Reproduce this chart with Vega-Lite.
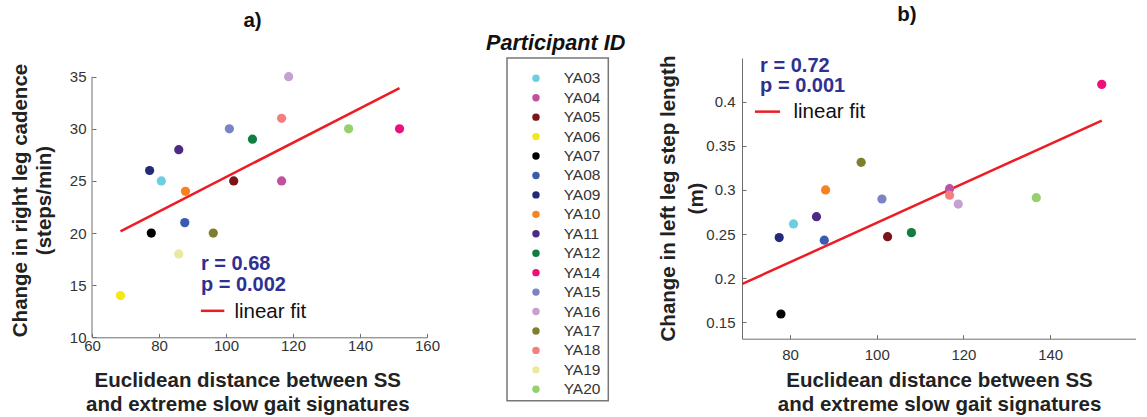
{
  "$schema": "https://vega.github.io/schema/vega-lite/v6.json",
  "background": "white",
  "padding": {"left": 10, "top": 4, "right": 0, "bottom": 0},
  "config": {
    "font": "Liberation Sans",
    "view": {"stroke": null},
    "axis": {
      "grid": false,
      "domainColor": "#6e6e6e",
      "tickColor": "#6e6e6e",
      "tickSize": -4,
      "labelColor": "#333333",
      "labelFontSize": 15,
      "labelFlush": false,
      "labelOverlap": false,
      "titleFontSize": 20.5,
      "titleFontWeight": "bold",
      "titleColor": "#222222"
    },
    "title": {"fontSize": 20.5, "fontWeight": "bold", "color": "#111111", "baseline": "alphabetic", "frame": "group"}
  },
  "datasets": {
    "cadence": [
      {"id": "YA03", "dist": 80.7, "value": 25},
      {"id": "YA04", "dist": 116.6, "value": 25},
      {"id": "YA05", "dist": 102.3, "value": 25},
      {"id": "YA06", "dist": 68.5, "value": 14},
      {"id": "YA07", "dist": 77.7, "value": 20},
      {"id": "YA08", "dist": 87.7, "value": 21},
      {"id": "YA09", "dist": 77.2, "value": 26},
      {"id": "YA10", "dist": 87.9, "value": 24},
      {"id": "YA11", "dist": 85.9, "value": 28},
      {"id": "YA12", "dist": 107.9, "value": 29},
      {"id": "YA14", "dist": 151.8, "value": 30},
      {"id": "YA15", "dist": 101.0, "value": 30},
      {"id": "YA16", "dist": 118.7, "value": 35},
      {"id": "YA17", "dist": 96.2, "value": 20},
      {"id": "YA18", "dist": 116.6, "value": 31},
      {"id": "YA19", "dist": 85.9, "value": 18},
      {"id": "YA20", "dist": 136.6, "value": 30}
    ],
    "steplength": [
      {"id": "YA03", "dist": 80.8, "value": 0.2614},
      {"id": "YA04", "dist": 116.8, "value": 0.3014},
      {"id": "YA05", "dist": 102.5, "value": 0.247},
      {"id": "YA07", "dist": 77.9, "value": 0.1594},
      {"id": "YA08", "dist": 87.9, "value": 0.243},
      {"id": "YA09", "dist": 77.5, "value": 0.246},
      {"id": "YA10", "dist": 88.2, "value": 0.300},
      {"id": "YA11", "dist": 86.1, "value": 0.2697},
      {"id": "YA12", "dist": 108.0, "value": 0.2516},
      {"id": "YA14", "dist": 151.9, "value": 0.4196},
      {"id": "YA15", "dist": 101.2, "value": 0.2897},
      {"id": "YA16", "dist": 118.8, "value": 0.284},
      {"id": "YA17", "dist": 96.4, "value": 0.3313},
      {"id": "YA18", "dist": 116.8, "value": 0.294},
      {"id": "YA20", "dist": 136.8, "value": 0.2912}
    ],
    "fitA": [
      {"dist": 68.5, "value": 20.17},
      {"dist": 151.8, "value": 33.91}
    ],
    "fitB": [
      {"dist": 69.0, "value": 0.1935},
      {"dist": 151.9, "value": 0.3785}
    ]
  },
  "spacing": 32,
  "hconcat": [
    {
      "spacing": 45,
      "hconcat": [
        {
          "width": 335,
          "height": 279.3,
          "title": {"text": "a)", "offset": 26.5, "dx": -7},
          "layer": [
            {
              "data": {"name": "fitA"},
              "mark": {"type": "line", "color": "#ed1c24", "strokeWidth": 2.5},
              "encoding": {
                "x": {
                  "field": "dist", "type": "quantitative",
                  "scale": {"domain": [60, 160], "nice": false, "zero": false},
                  "axis": {
                    "title": ["Euclidean distance between SS", "and extreme slow gait signatures"],
                    "values": [60, 80, 100, 120, 140, 160],
                    "labelPadding": 5,
                    "titleX": 155.3, "titleY": 49.4,
                    "titleBaseline": "alphabetic", "titleLineHeight": 24
                  }
                },
                "y": {
                  "field": "value", "type": "quantitative",
                  "scale": {"domain": [10, 36.79], "nice": false, "zero": false},
                  "axis": {
                    "title": ["Change in right leg cadence", "(steps/min)"],
                    "values": [10, 15, 20, 25, 30, 35],
                    "domain": false,
                    "labelPadding": 10,
                    "titleX": -65.2, "titleY": 142,
                    "titleBaseline": "alphabetic", "titleLineHeight": 24
                  }
                }
              }
            },
            {
              "data": {"name": "cadence"},
              "mark": {"type": "circle", "size": 85, "opacity": 1},
              "encoding": {
                "x": {"field": "dist", "type": "quantitative"},
                "y": {"field": "value", "type": "quantitative"},
                "color": {
                  "field": "id", "type": "nominal", "legend": null,
                  "scale": {
                    "domain": ["YA03","YA04","YA05","YA06","YA07","YA08","YA09","YA10","YA11","YA12","YA14","YA15","YA16","YA17","YA18","YA19","YA20"],
                    "range": ["#6ccfe0","#c050a0","#7b1418","#f2e81c","#000000","#3a5bb0","#232a78","#f7821e","#4e2a84","#0e7f3f","#ee0f7c","#7b83c4","#c6a0d0","#7e7e2e","#f47f7f","#ebe9a0","#95d06c"]
                  }
                }
              }
            },
            {
              "data": {"values": [{"item": "y axis line"}]},
              "mark": {"type": "rule", "color": "#6e6e6e", "strokeWidth": 1},
              "encoding": {"x": {"datum": 60, "type": "quantitative"}, "y": {"datum": 10, "type": "quantitative"}, "y2": {"datum": 35}}
            },
            {
              "data": {"values": [{"label": "r = 0.68\np = 0.002"}]},
              "mark": {"type": "text", "align": "left", "baseline": "alphabetic", "fontSize": 20, "fontWeight": "bold", "color": "#2e3192", "lineBreak": "\n", "lineHeight": 20.5},
              "encoding": {"x": {"datum": 92.5, "type": "quantitative"}, "y": {"datum": 16.45, "type": "quantitative"}, "text": {"field": "label", "type": "nominal"}}
            },
            {
              "data": {"values": [{"item": "legend line"}]},
              "mark": {"type": "rule", "color": "#ed1c24", "strokeWidth": 2.5},
              "encoding": {"x": {"datum": 92.5, "type": "quantitative"}, "x2": {"datum": 99.5}, "y": {"datum": 12.54, "type": "quantitative"}}
            },
            {
              "data": {"values": [{"label": "linear fit"}]},
              "mark": {"type": "text", "align": "left", "baseline": "alphabetic", "fontSize": 20.5, "color": "#111111"},
              "encoding": {"x": {"datum": 102.5, "type": "quantitative"}, "y": {"datum": 11.87, "type": "quantitative"}, "text": {"field": "label", "type": "nominal"}}
            }
          ]
        },
        {
          "width": 101.3,
          "height": 342.7,
          "view": {"stroke": "#777777", "strokeWidth": 1.5},
          "title": {"text": "Participant ID", "fontStyle": "italic", "fontSize": 21.6, "offset": 3, "dx": -2},
          "data": {"name": "cadence"},
          "encoding": {
            "y": {"field": "id", "type": "nominal", "scale": {"type": "point", "padding": 0.815, "align": 0.64}, "axis": null}
          },
          "layer": [
            {
              "mark": {"type": "circle", "size": 55, "opacity": 1},
              "encoding": {
                "x": {"datum": 0.286, "type": "quantitative", "scale": {"domain": [0, 1], "nice": false, "zero": false}, "axis": null},
                "color": {
                  "field": "id", "type": "nominal", "legend": null,
                  "scale": {
                    "domain": ["YA03","YA04","YA05","YA06","YA07","YA08","YA09","YA10","YA11","YA12","YA14","YA15","YA16","YA17","YA18","YA19","YA20"],
                    "range": ["#6ccfe0","#c050a0","#7b1418","#f2e81c","#000000","#3a5bb0","#232a78","#f7821e","#4e2a84","#0e7f3f","#ee0f7c","#7b83c4","#c6a0d0","#7e7e2e","#f47f7f","#ebe9a0","#95d06c"]
                  }
                }
              }
            },
            {
              "mark": {"type": "text", "align": "left", "baseline": "middle", "fontSize": 15.5, "color": "#333333"},
              "encoding": {
                "x": {"datum": 0.559, "type": "quantitative"},
                "text": {"field": "id", "type": "nominal"}
              }
            }
          ]
        }
      ]
    },
    {
      "width": 394,
      "height": 280.7,
      "title": {"text": "b)", "offset": 29.7, "dx": -32},
      "layer": [
        {
          "data": {"name": "fitB"},
          "mark": {"type": "line", "color": "#ed1c24", "strokeWidth": 2.5},
          "encoding": {
            "x": {
              "field": "dist", "type": "quantitative",
              "scale": {"domain": [68.92, 159.8], "nice": false, "zero": false},
              "axis": {
                "title": ["Euclidean distance between SS", "and extreme slow gait signatures"],
                "values": [80, 100, 120, 140],
                "labelPadding": 13,
                "titleY": 48,
                "titleBaseline": "alphabetic", "titleLineHeight": 24
              }
            },
            "y": {
              "field": "value", "type": "quantitative",
              "scale": {"domain": [0.1314, 0.4495], "nice": false, "zero": false},
              "axis": {
                "title": ["Change in left leg step length", "(m)"],
                "values": [0.15, 0.2, 0.25, 0.3, 0.35, 0.4],
                "format": "~g",
                "labelPadding": 11,
                "titleX": -67.3, "titleY": 140,
                "titleBaseline": "alphabetic", "titleLineHeight": 28
              }
            }
          }
        },
        {
          "data": {"name": "steplength"},
          "mark": {"type": "circle", "size": 85, "opacity": 1},
          "encoding": {
            "x": {"field": "dist", "type": "quantitative"},
            "y": {"field": "value", "type": "quantitative"},
            "color": {
              "field": "id", "type": "nominal", "legend": null,
              "scale": {
                "domain": ["YA03","YA04","YA05","YA06","YA07","YA08","YA09","YA10","YA11","YA12","YA14","YA15","YA16","YA17","YA18","YA19","YA20"],
                "range": ["#6ccfe0","#c050a0","#7b1418","#f2e81c","#000000","#3a5bb0","#232a78","#f7821e","#4e2a84","#0e7f3f","#ee0f7c","#7b83c4","#c6a0d0","#7e7e2e","#f47f7f","#ebe9a0","#95d06c"]
              }
            }
          }
        },
        {
          "data": {"values": [{"label": "r = 0.72\np = 0.001"}]},
          "mark": {"type": "text", "align": "left", "baseline": "alphabetic", "fontSize": 20, "fontWeight": "bold", "color": "#2e3192", "lineBreak": "\n", "lineHeight": 20.5},
          "encoding": {"x": {"datum": 73.1, "type": "quantitative"}, "y": {"datum": 0.434, "type": "quantitative"}, "text": {"field": "label", "type": "nominal"}}
        },
        {
          "data": {"values": [{"item": "legend line"}]},
          "mark": {"type": "rule", "color": "#ed1c24", "strokeWidth": 2.5},
          "encoding": {"x": {"datum": 71.9, "type": "quantitative"}, "x2": {"datum": 77.7}, "y": {"datum": 0.3887, "type": "quantitative"}}
        },
        {
          "data": {"values": [{"label": "linear fit"}]},
          "mark": {"type": "text", "align": "left", "baseline": "alphabetic", "fontSize": 20.5, "color": "#111111"},
          "encoding": {"x": {"datum": 80.8, "type": "quantitative"}, "y": {"datum": 0.3812, "type": "quantitative"}, "text": {"field": "label", "type": "nominal"}}
        }
      ]
    }
  ]
}
